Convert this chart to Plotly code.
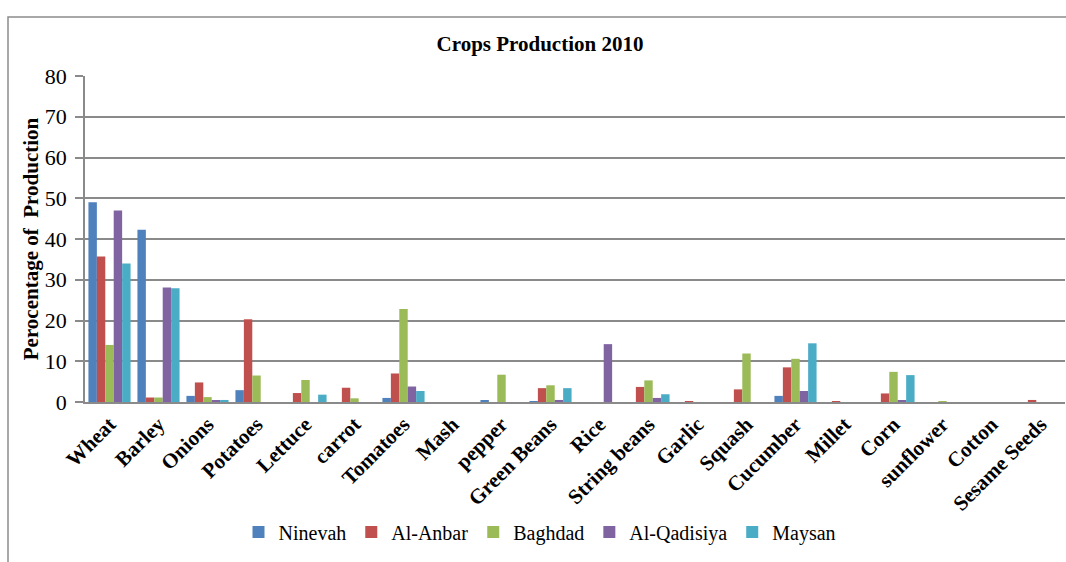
import plotly.graph_objects as go

# Crop categories along the x axis
crops = ["Wheat", "Barley", "Onions", "Potatoes", "Lettuce", "carrot", "Tomatoes",
         "Mash", "pepper", "Green Beans", "Rice", "String beans", "Garlic", "Squash",
         "Cucumber", "Millet", "Corn", "sunflower", "Cotton", "Sesame Seeds"]

# Percentage of production per governorate
ninevah = [49.0, 42.3, 1.5, 2.9, 0.0, 0.0, 1.0, 0.0, 0.3, 0.1, 0.0, 0.0, 0.0, 0.0,
           1.5, 0.0, 0.0, 0.0, 0.0, 0.0]
al_anbar = [35.7, 1.1, 4.8, 20.3, 2.2, 3.5, 7.0, 0.0, 0.0, 3.4, 0.0, 3.7, 0.1, 3.1,
            8.5, 0.1, 2.1, 0.0, 0.0, 0.5]
baghdad = [14.0, 1.1, 1.2, 6.5, 5.4, 0.9, 22.8, 0.0, 6.7, 4.1, 0.0, 5.3, 0.0, 11.9,
           10.6, 0.0, 7.4, 0.1, 0.0, 0.0]
al_qadisiya = [47.0, 28.1, 0.3, 0.0, 0.0, 0.0, 3.8, 0.0, 0.0, 0.5, 14.2, 1.0, 0.0, 0.0,
               2.7, 0.0, 0.4, 0.0, 0.0, 0.0]
maysan = [34.0, 27.9, 0.5, 0.0, 1.8, 0.0, 2.7, 0.0, 0.0, 3.4, 0.0, 1.9, 0.0, 0.0,
          14.4, 0.0, 6.6, 0.0, 0.0, 0.0]

series = [
    ("Ninevah", ninevah, "#4F81BD"),
    ("Al-Anbar", al_anbar, "#C0504D"),
    ("Baghdad", baghdad, "#9BBB59"),
    ("Al-Qadisiya", al_qadisiya, "#8064A2"),
    ("Maysan", maysan, "#4BACC6"),
]

SERIF = "Liberation Serif, Times New Roman, serif"
GRID = "#8a8a8a"

fig = go.Figure()
for name, vals, color in series:
    fig.add_trace(go.Bar(
        name=name, x=crops, y=vals,
        marker=dict(color=color, line=dict(width=0)),
    ))

fig.update_layout(
    width=1066, height=562,
    margin=dict(l=85, r=1, t=76, b=160),
    paper_bgcolor="white", plot_bgcolor="white",
    barmode="group", bargap=0.14, bargroupgap=0,
    title=dict(text="<b>Crops Production 2010</b>", x=540 / 1066, xanchor="center",
               xref="container", y=1 - 44 / 562, yanchor="middle", yref="container",
               font=dict(family=SERIF, size=21, color="black")),
    font=dict(family=SERIF, color="black"),
    showlegend=True,
    legend=dict(orientation="h", x=(540 - 85) / 980, xanchor="center",
                y=(402 - 532) / 326, yanchor="middle",
                font=dict(family=SERIF, size=20, color="black"),
                itemwidth=30, tracegroupgap=0, bgcolor="rgba(0,0,0,0)"),
    shapes=[dict(type="rect", xref="paper", yref="paper",
                 x0=(8 - 85) / 980, x1=(1080 - 85) / 980,
                 y0=(402 - 580) / 326, y1=(402 - 17) / 326,
                 line=dict(color="#8c8c8c", width=1.5), layer="below")],
)

fig.update_xaxes(
    type="category", tickangle=-45, showgrid=False,
    showline=True, linecolor=GRID, linewidth=1.5,
    ticks="", tickfont=dict(family=SERIF, size=21, color="black"),
    ticktext=["<b>%s</b>" % c for c in crops], tickvals=crops,
)
fig.update_yaxes(
    range=[0, 80], dtick=10, showgrid=True, gridcolor=GRID, gridwidth=1.5,
    showline=True, linecolor=GRID, linewidth=1.5,
    ticks="outside", ticklen=8, tickcolor=GRID, tickwidth=1.5,
    ticklabelstandoff=4, zeroline=False,
    tickfont=dict(family=SERIF, size=22, color="black"),
    title=dict(text="<b>Perocentage of  Production</b>", standoff=0,
               font=dict(family=SERIF, size=21, color="black")),
)

fig.write_html("out.html")
